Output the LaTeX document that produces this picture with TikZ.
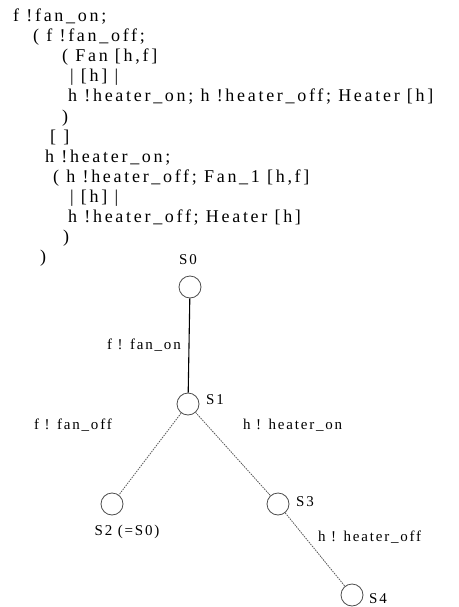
\documentclass[tikz,border=0pt]{standalone}
\usepackage{fontspec}
\setmainfont{Liberation Serif}[LetterSpace=15]
\newfontfamily\lblfont{Liberation Serif}[LetterSpace=12]
\begin{document}
\begin{tikzpicture}[x=1pt,y=-1pt,
  code/.style={anchor=base west,inner sep=0pt,font=\fontsize{18}{20}\selectfont},
  lbl/.style={inner sep=0pt,font=\lblfont\fontsize{15}{17}\selectfont},
  state/.style={circle,draw=black!70,line width=0.8pt,minimum size=22pt,inner sep=0pt},
  solidedge/.style={draw=black,line width=1.1pt},
  dotedge/.style={draw=black!65,line width=0.8pt,dash pattern=on 1.5pt off 1pt}]
\useasboundingbox (0,0) rectangle (458,607);
% code text
\node[code] (l1)  at (13,22)  {f !fan\_on;};
\node[code] (l2)  at (33,42)  {( f !fan\_off;};
\node[code] (l3)  at (62,62)  {( Fan [h,f]};
\node[code] (l4)  at (70,82)  {| [h] |};
\node[code] (l5)  at (68,102) {h !heater\_on; h !heater\_off; Heater [h]};
\node[code] (l6)  at (62,122) {)};
\node[code] (l7)  at (50,142) {[ ]};
\node[code] (l8)  at (45,162) {h !heater\_on;};
\node[code] (l9)  at (53,182) {( h !heater\_off; Fan\_1 [h,f]};
\node[code] (l10) at (70,202) {| [h] |};
\node[code] (l11) at (68,222) {h !heater\_off; Heater [h]};
\node[code] (l12) at (63,242) {)};
\node[code] (l13) at (40,262) {)};
% states
\node[state] (s0) at (190,287) {};
\node[state] (s1) at (188,404) {};
\node[state] (s2) at (112,504) {};
\node[state] (s3) at (278,504) {};
\node[state] (s4) at (352,595) {};
% state labels
\node[lbl] (t0) at (188,260) {S0};
\node[lbl,anchor=west] (t1) at (206,400) {S1};
\node[lbl] (t2) at (127,532) {S2 (=S0)};
\node[lbl,anchor=west] (t3) at (296,502) {S3};
\node[lbl,anchor=west] (t4) at (369,599) {S4};
% edges
\draw[solidedge] (s0) -- (s1);
\draw[dotedge] (s1) -- (s2);
\draw[dotedge] (s1) -- (s3);
\draw[dotedge] (s3) -- (s4);
% edge labels
\node[lbl,anchor=east] (e1) at (181,345) {f ! fan\_on};
\node[lbl,anchor=east] (e2) at (112,425) {f ! fan\_off};
\node[lbl,anchor=west] (e3) at (243,425) {h ! heater\_on};
\node[lbl,anchor=west] (e4) at (318,537) {h ! heater\_off};
\end{tikzpicture}
\end{document}
